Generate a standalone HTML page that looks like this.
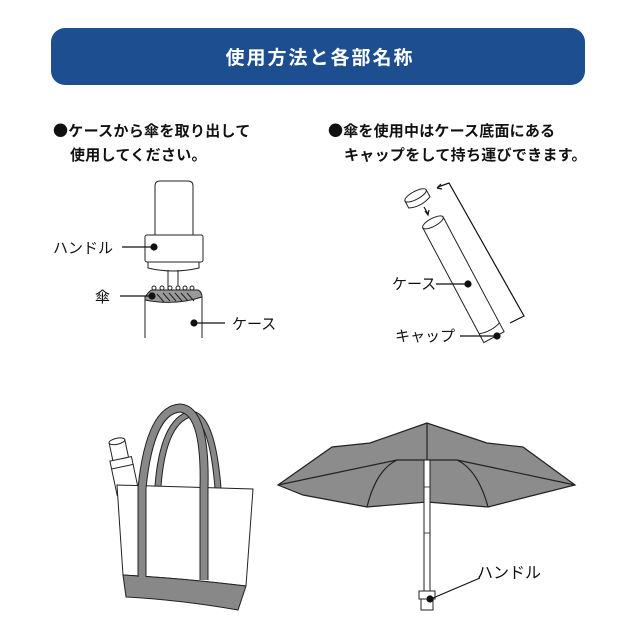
<!DOCTYPE html>
<html><head><meta charset="utf-8"><style>
html,body{margin:0;padding:0;background:#fff;}
svg{display:block;}
text{font-family:"Liberation Sans","Noto Sans CJK JP",sans-serif;}
.j{font-family:"Noto Sans CJK JP",sans-serif;}
</style></head><body>
<svg width="640" height="640" viewBox="0 0 640 640" xmlns="http://www.w3.org/2000/svg">
<rect x="51" y="28" width="534" height="57" rx="14" fill="#1d4e8f"/>
<text class="j" x="320" y="64" text-anchor="middle" font-size="19" font-weight="bold" fill="#fff" letter-spacing="2">使用方法と各部名称</text>

<g font-size="15" font-weight="bold" fill="#111" class="j">
<text class="j" x="53" y="136" letter-spacing="0.3">●ケースから傘を取り出して</text>
<text class="j" x="70" y="160" letter-spacing="0.3">使用してください。</text>
<text class="j" x="328" y="136" letter-spacing="0.2">●傘を使用中はケース底面にある</text>
<text class="j" x="344" y="160" letter-spacing="0.3">キャップをして持ち運びできます。</text>
</g>

<!-- left diagram -->
<g stroke="#222" stroke-width="1" fill="#fff">
<path d="M155,238 V186 Q155,181 160,181 H188 Q193,181 193,186 V238 Z"/>
<rect x="145" y="235" width="58" height="27" rx="2"/>
<path d="M148,262 H199 V268 Q173,274 148,268 Z"/>
<line x1="168" y1="270" x2="168" y2="290"/>
<line x1="178" y1="270" x2="178" y2="290"/>
<path d="M145,338 V297 Q174,287 202,297 V338" fill="#fff"/>
<path d="M145,297 Q150,290 152,290 H198 Q202,292 202,297 Q174,306 145,300 Z" fill="#999"/>
</g>
<g stroke="#222" stroke-width="1">
<path d="M157,294 l7,8 M163,293 l7,8 M169,293 l7,8 M175,293 l7,8 M181,293 l7,8 M187,293 l7,8" fill="none"/>
</g>
<g fill="#fff" stroke="#222" stroke-width="1">
<circle cx="154" cy="288" r="2"/><circle cx="162" cy="288" r="2"/><circle cx="170" cy="288" r="2"/><circle cx="178" cy="288" r="2"/><circle cx="185" cy="288" r="2"/><circle cx="192" cy="288" r="2"/>
</g>
<g stroke="#111" stroke-width="1.2" fill="#111">
<line x1="122" y1="247" x2="152" y2="247"/><circle cx="154" cy="247" r="3"/>
<line x1="120" y1="296" x2="150" y2="296"/><circle cx="152" cy="296" r="3"/>
<line x1="196" y1="323" x2="225" y2="323"/><circle cx="194" cy="323" r="3"/>
</g>
<g font-size="15" fill="#111">
<text class="j" x="53" y="253">ハンドル</text>
<text class="j" x="95" y="302">傘</text>
<text class="j" x="232" y="329">ケース</text>
</g>

<!-- right diagram -->
<g transform="rotate(-28 463 280)" stroke="#222" stroke-width="1" fill="#fff">
<rect x="452" y="215" width="23" height="130"/>
<ellipse cx="463.5" cy="215" rx="11.5" ry="4"/>
<path d="M452,335 Q463.5,339 475,335"/>
</g>
<g transform="rotate(-28 417 198)" stroke="#222" stroke-width="1" fill="#fff">
<path d="M405,195 V203 Q417,208 429,203 V195"/>
<ellipse cx="417" cy="195" rx="12" ry="4"/>
</g>
<g stroke="#111" stroke-width="1.2" fill="none">
<line x1="424" y1="207" x2="428" y2="214"/>
<path d="M425,211 l3,4 l1,-5" />
<path d="M438,187 L449,183 L524,316 L510,323"/>
<path d="M437,188 l4,-4 M437,188 l5,1"/>
</g>
<g stroke="#111" stroke-width="1.2" fill="#111">
<line x1="436" y1="284" x2="466" y2="284"/><circle cx="468" cy="284" r="3"/>
<line x1="460" y1="336" x2="494" y2="336"/><circle cx="497" cy="336" r="3"/>
</g>
<g font-size="15" fill="#111">
<text class="j" x="392" y="289">ケース</text>
<text class="j" x="395" y="341">キャップ</text>
</g>

<!-- tote -->
<g stroke="#222" stroke-width="1">
<path d="M158,486 Q163,422 190,414 Q212,414 218,488" fill="none" stroke="#222" stroke-width="7"/>
<path d="M158,486 Q163,422 190,414 Q212,414 218,488" fill="none" stroke="#888" stroke-width="5"/>
<g transform="rotate(-12 125 460)" fill="#fff">
<rect x="113" y="440" width="16" height="20"/>
<ellipse cx="121" cy="440" rx="8" ry="3"/>
<rect x="110" y="458" width="22" height="35"/>
<line x1="110" y1="466" x2="132" y2="466"/>
</g>
<path d="M117,485 L253,489 L246,586 Q180,578 123,575 Z" fill="#fff"/>
<path d="M123,575 Q180,578 246,586 L238,610 Q180,600 126,597 Z" fill="#888"/>
<path d="M142,577 V488 Q150,410 180,408 Q206,410 204,488 V580" fill="none" stroke="#222" stroke-width="9"/>
<path d="M142,577 V488 Q150,410 180,408 Q206,410 204,488 V580" fill="none" stroke="#888" stroke-width="7"/>
</g>

<!-- umbrella -->
<g stroke="#222" stroke-width="1.2">
<path d="M427,423 L370,443 L332,447 L278,485 L303,495 L367,507 L427,502 L488,507 L523,498 L575,485 L523,447 L487,443 Z" fill="#8c8c8c"/>
<path d="M278,485 L397,460 L457,460 L575,485 M397,460 Q376,470 367,507 M457,460 Q478,470 488,507 M427,423 V460" fill="none"/>
<rect x="424" y="460" width="6" height="132" fill="#fff" stroke-width="1"/>
<line x1="424" y1="487" x2="430" y2="487" stroke-width="0.8"/>
<line x1="424" y1="533" x2="430" y2="533" stroke-width="0.8"/>
<rect x="419" y="591" width="16" height="8" fill="#fff" stroke-width="1"/>
<rect x="421" y="599" width="12" height="11" fill="#fff" stroke-width="1"/>
</g>
<g stroke="#111" stroke-width="1.2" fill="#111">
<line x1="480" y1="578" x2="433" y2="598"/><circle cx="430" cy="599" r="3"/>
</g>
<text class="j" x="477" y="578" font-size="16" fill="#111">ハンドル</text>
</svg>
</body></html>
